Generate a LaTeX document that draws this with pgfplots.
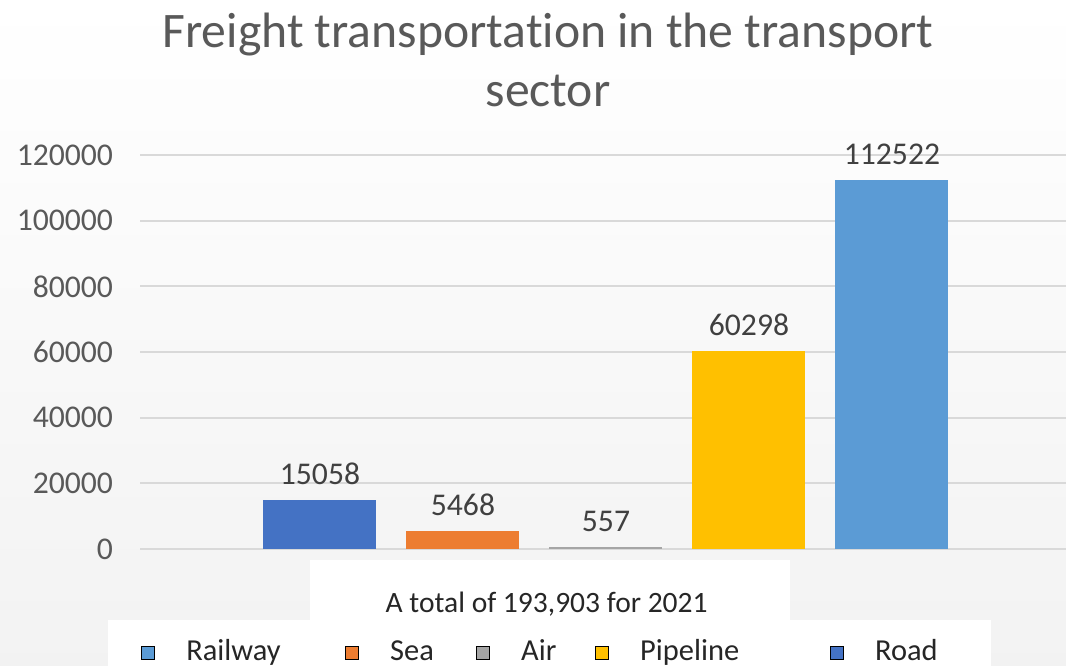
\documentclass[border=0pt]{standalone}
\usepackage{fontspec}
\setmainfont{Carlito}[Ligatures=NoCommon]
\usepackage{pgfplots}
\pgfplotsset{compat=1.18}
\definecolor{cRoad}{HTML}{4472C4}
\definecolor{cSea}{HTML}{ED7D31}
\definecolor{cAir}{HTML}{A5A5A5}
\definecolor{cPipe}{HTML}{FFC000}
\definecolor{cRail}{HTML}{5B9BD5}
\definecolor{txt}{HTML}{595959}
\definecolor{lbl}{HTML}{404040}
\definecolor{grid}{HTML}{D9D9D9}
\begin{document}
\begin{tikzpicture}
\useasboundingbox (0,0) rectangle (15.99cm,9.99cm);
\shade[top color=white, bottom color=black!5] (0,0) rectangle (15.99cm,9.99cm);
\node[text=txt, align=center, font=\fontsize{21.2}{25}\selectfont] at (8.22cm,9.09cm) {Freight transportation in the transport\\sector};
\fill[white] (4.65cm,0.69cm) rectangle (11.85cm,1.59cm);
\node[text=black!85, font=\fontsize{12.6}{14}\selectfont] at (8.2cm,0.93cm) {A total of 193,903 for 2021};
\begin{axis}[
  at={(2.1cm,1.755cm)}, anchor=south west,
  scale only axis, width=13.89cm, height=5.91cm,
  xmin=-0.2587, xmax=6.217, ymin=0, ymax=120000,
  axis line style={draw=none},
  xtick=\empty,
  ytick={0,20000,40000,60000,80000,100000,120000},
  scaled y ticks=false,
  major tick length=0pt,
  ymajorgrids, major grid style={draw=grid, line width=0.8pt},
  yticklabel style={font=\fontsize{13.5}{16}\selectfont, text=txt, xshift=-8pt, /pgf/number format/fixed, /pgf/number format/1000 sep={}, /pgf/number format/assume math mode=true},
  ybar, bar width=1.695cm, bar shift=0pt,
  nodes near coords,
  nodes near coords style={font=\fontsize{13.5}{16}\selectfont, text=lbl, yshift=3pt, /pgf/number format/fixed, /pgf/number format/1000 sep={}, /pgf/number format/assume math mode=true},
  legend columns=5,
  legend style={at={(-0.0356,-0.1802)}, anchor=north west, fill=white, draw=none,
    inner xsep=0.5cm, inner ysep=0.2cm, column sep=0pt,
    nodes={inner sep=0pt, text=black!85, font=\fontsize{13}{16}\selectfont}, cells={anchor=base west}},
  legend image code/.code={\fill[#1] (0cm,0.0125cm) rectangle (0.195cm,0.2075cm); \path (0.6675cm,0cm);},
]
\addplot[fill=cRoad, draw=none, forget plot] coordinates {(1,15058)};
\addplot[fill=cSea, draw=none, forget plot] coordinates {(2,5468)};
\addplot[fill=cAir, draw=none, forget plot] coordinates {(3,557)};
\addplot[fill=cPipe, draw=none, forget plot] coordinates {(4,60298)};
\addplot[fill=cRail, draw=none, forget plot] coordinates {(5,112522)};
\addlegendimage{fill=cRail}
\addlegendentry{\makebox[2.378cm][l]{Railway\strut}}
\addlegendimage{fill=cSea}
\addlegendentry{\makebox[1.283cm][l]{Sea\strut}}
\addlegendimage{fill=cAir}
\addlegendentry{\makebox[1.103cm][l]{Air\strut}}
\addlegendimage{fill=cPipe}
\addlegendentry{\makebox[2.843cm][l]{Pipeline\strut}}
\addlegendimage{fill=cRoad}
\addlegendentry{\makebox[1.238cm][l]{Road\strut}}
\end{axis}
\end{tikzpicture}
\end{document}
